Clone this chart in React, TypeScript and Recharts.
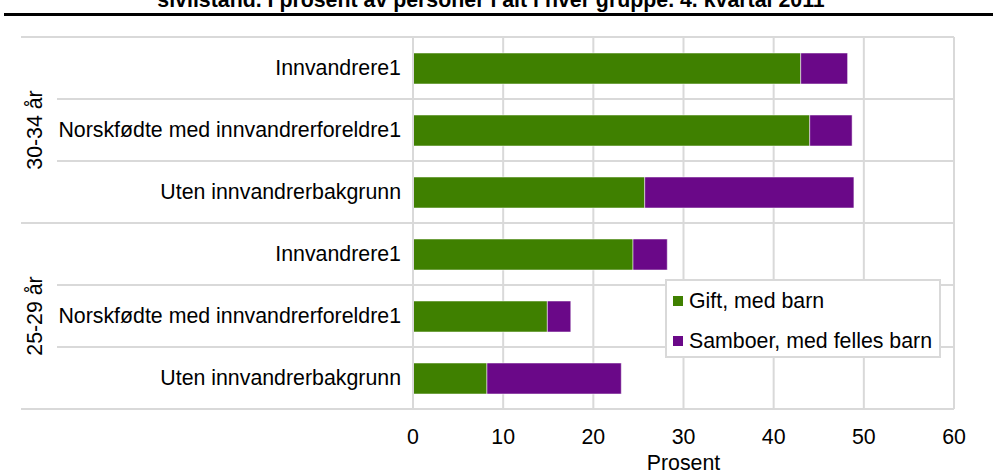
import { BarChart, Bar, XAxis, YAxis, CartesianGrid, Legend } from "recharts";

const ageGroups = ["30-34 år", "25-29 år"];
const categories = [
  "Innvandrere1",
  "Norskfødte med innvandrerforeldre1",
  "Uten innvandrerbakgrunn",
];
// one value per row, top to bottom (30-34 år first, then 25-29 år)
const giftMedBarn = [43.0, 44.0, 25.7, 24.4, 14.9, 8.2];
const samboerMedBarn = [5.2, 4.7, 23.2, 3.8, 2.6, 14.9];
const xTicks = [0, 10, 20, 30, 40, 50, 60];

const WIDTH = 993;
const HEIGHT = 470;
const MARGIN = { top: 37, right: 39, bottom: 21, left: 0 };
const X_AXIS_HEIGHT = 40;
const Y_AXIS_WIDTH = 413;
const FONT = "'Liberation Sans', Arial, sans-serif";
const FS = 21.33;
const GRID = "#d9d9d9";

const rows = ageGroups.flatMap((group, g) =>
  categories.map((name, c) => {
    const i = g * categories.length + c;
    return {
      key: `${group}|${name}`,
      group,
      name,
      gift: giftMedBarn[i],
      samboer: samboerMedBarn[i],
    };
  })
);

const plotRight = WIDTH - MARGIN.right;
const plotHeight = HEIGHT - MARGIN.top - MARGIN.bottom - X_AXIS_HEIGHT;
const band = plotHeight / rows.length;

function CategoryTick(props: any) {
  const { x, y, payload, index } = props;
  const row = rows[index];
  const label = row ? row.name : String(payload.value).split("|")[1];
  const posInGroup = index % categories.length;
  const isGroupEnd = posInGroup === categories.length - 1;
  return (
    <g>
      {index === 0 && (
        <line x1={21} x2={plotRight} y1={y - band / 2} y2={y - band / 2} stroke={GRID} strokeWidth={2} />
      )}
      <line
        x1={isGroupEnd ? 21 : 57}
        x2={plotRight}
        y1={y + band / 2}
        y2={y + band / 2}
        stroke={GRID}
        strokeWidth={2}
      />
      <text x={x} y={y} textAnchor="end" dominantBaseline="central" fontSize={FS} fill="#000" fontFamily={FONT}>
        {label}
      </text>
      {posInGroup === 1 && (
        <text
          x={35}
          y={y}
          transform={`rotate(-90 35 ${y})`}
          textAnchor="middle"
          dominantBaseline="central"
          fontSize={FS}
          fill="#000"
          fontFamily={FONT}
        >
          {row.group}
        </text>
      )}
    </g>
  );
}

function LegendBox(props: any) {
  const items = props.payload || [];
  return (
    <div
      style={{
        boxSizing: "border-box",
        width: 276,
        height: 79,
        background: "#fff",
        border: `2px solid ${GRID}`,
        position: "relative",
        fontFamily: FONT,
        fontSize: FS,
        color: "#000",
      }}
    >
      {items.map((it: any, i: number) => (
        <div
          key={it.value}
          style={{ position: "absolute", left: 6, top: 10 + i * 40, height: 20, display: "flex", alignItems: "center", whiteSpace: "nowrap" }}
        >
          <span style={{ display: "inline-block", width: 10, height: 10, background: it.color, marginRight: 6 }} />
          <span>{it.value}</span>
        </div>
      ))}
    </div>
  );
}

export default function App() {
  return (
    <div style={{ position: "absolute", left: 0, top: 0, width: WIDTH, height: HEIGHT, background: "#fff" }}>
      <svg width={WIDTH} height={20} style={{ position: "absolute", left: 0, top: 0, zIndex: 2 }}>
        <text x={491} y={7} textAnchor="middle" fontSize={FS} fontWeight="bold" fill="#000" fontFamily={FONT}>
          sivilstand. I prosent av personer i alt i hver gruppe. 4. kvartal 2011
        </text>
        <rect x={4} y={13} width={WIDTH - 4} height={3} fill="#000" />
      </svg>
      <BarChart width={WIDTH} height={HEIGHT} data={rows} layout="vertical" margin={MARGIN} barSize={31}>
        <CartesianGrid horizontal={false} vertical stroke={GRID} strokeWidth={2} />
        <XAxis
          type="number"
          domain={[0, 60]}
          ticks={xTicks}
          interval={0}
          height={X_AXIS_HEIGHT}
          axisLine={false}
          tickLine={false}
          tickMargin={14}
          tick={{ fontSize: FS, fill: "#000", fontFamily: FONT }}
          label={{ value: "Prosent", position: "bottom", offset: 6, fontSize: FS, fill: "#000", fontFamily: FONT }}
        />
        <YAxis
          type="category"
          dataKey="key"
          width={Y_AXIS_WIDTH}
          interval={0}
          axisLine={{ stroke: GRID, strokeWidth: 2 }}
          tickLine={false}
          tickMargin={6}
          tick={<CategoryTick />}
        />
        <Legend
          layout="vertical"
          align="center"
          verticalAlign="middle"
          content={<LegendBox />}
          wrapperStyle={{ position: "absolute", left: 665, top: 279, width: 276, height: 79 }}
        />
        <Bar dataKey="gift" name="Gift, med barn" stackId="a" fill="#3f8000" stroke="rgba(255,255,255,0.5)" strokeWidth={1} isAnimationActive={false} />
        <Bar dataKey="samboer" name="Samboer, med felles barn" stackId="a" fill="#6a0888" stroke="rgba(255,255,255,0.5)" strokeWidth={1} isAnimationActive={false} />
      </BarChart>
    </div>
  );
}
